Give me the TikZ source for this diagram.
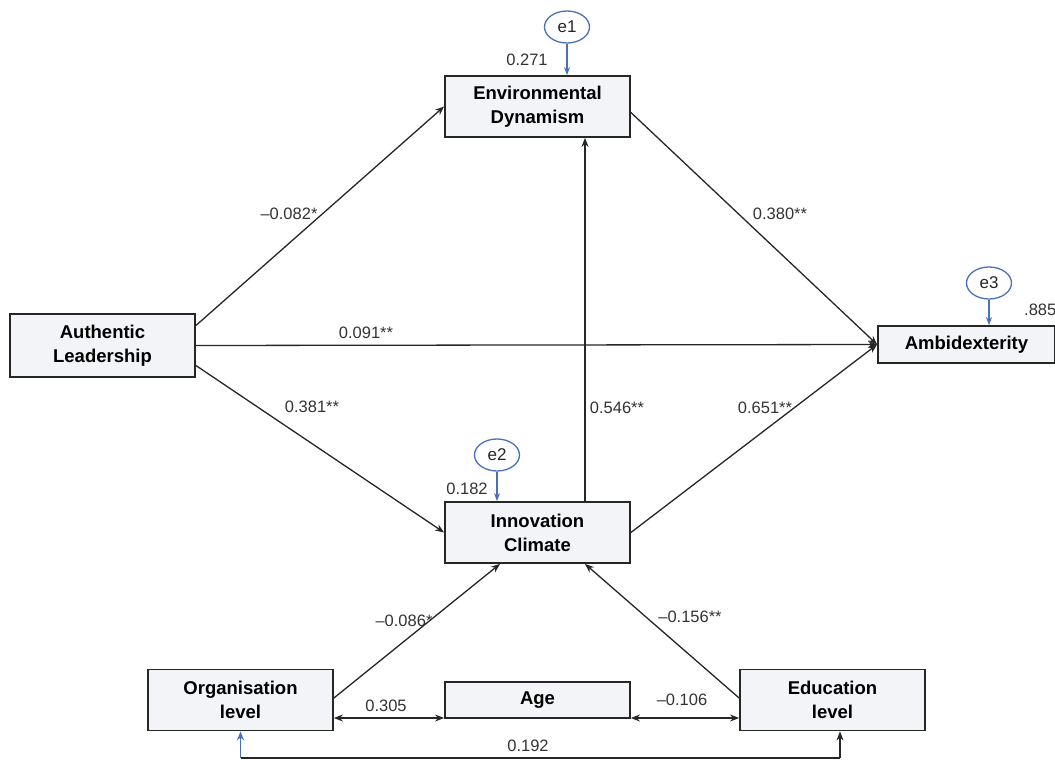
\documentclass[tikz,border=0pt]{standalone}
\usepackage{fontspec}
\setmainfont{Liberation Sans}
\usetikzlibrary{arrows.meta,shapes.geometric}
\definecolor{boxfill}{HTML}{F2F4F7}
\definecolor{eblue}{HTML}{4A70B8}
\definecolor{lbl}{HTML}{333333}
\tikzset{
  var/.style={draw=black!85,line width=1.8pt,fill=boxfill,minimum width=185pt,minimum height=61pt,
    align=center,font=\fontsize{18.5}{24}\selectfont\bfseries,inner sep=0pt},
  err/.style={ellipse,draw=eblue,line width=1.3pt,minimum width=45pt,minimum height=32pt,inner sep=0pt,
    font=\fontsize{17}{19}\selectfont,text=black!85},
  path/.style={line width=1.3pt,black!85,-{Stealth[length=9pt,width=7pt]}},
  cov/.style={line width=1.3pt,black!85,{Stealth[length=9pt,width=7pt]}-{Stealth[length=9pt,width=7pt]}},
  earr/.style={line width=1.3pt,eblue,-{Stealth[length=8pt,width=6pt]}},
  lab/.style={font=\fontsize{16.5}{18}\selectfont,text=lbl,inner sep=0pt}
}
\begin{document}
\begin{tikzpicture}[x=1pt,y=-1pt]
\useasboundingbox (0,0) rectangle (1055,760);
% variables
\node[var] (ED) at (537.5,106.5) {Environmental\\Dynamism};
\node[var,minimum height=63pt] (AL) at (102.5,345.5) {Authentic\\Leadership};
\node[var,minimum width=177pt,minimum height=37pt] (AM) at (966.5,344.5) {Ambidexterity};
\node[var] (IC) at (537.5,532.5) {Innovation\\Climate};
\node[var] (OL) at (240.5,700) {Organisation\\level};
\node[var,minimum height=36pt] (AG) at (537.5,700) {Age};
\node[var] (EL) at (832.5,700) {Education\\level};
% errors
\node[err] (e1) at (567,27) {e1};
\node[err] (e2) at (497,455) {e2};
\node[err] (e3) at (989,283) {e3};
\draw[earr] (e1.south) -- ([xshift=29.5pt]ED.north);
\draw[earr] (e2.south) -- ([xshift=-40.5pt]IC.north);
\draw[earr] (e3.south) -- ([xshift=22.5pt]AM.north);
\node[lab] at (527,60) {0.271};
\node[lab] at (467,489) {0.182};
\node[lab,anchor=west] at (1024,310) {.885};
% paths
\draw[path] ([yshift=20pt]AL.east) -- (ED.west);
\draw[path] (AL.east) -- (AM.west);
\draw[path] ([yshift=-20pt]AL.east) -- (IC.west);
\draw[path] ([yshift=-6pt]ED.east) -- (AM.west);
\draw[path] (IC.east) -- (AM.west);
\draw[path] ([xshift=47.5pt]IC.north) -- ([xshift=47.5pt]ED.south);
\draw[path] ([yshift=2pt]OL.east) -- ([xshift=-37.5pt]IC.south);
\draw[path] ([yshift=2pt]EL.west) -- ([xshift=47.5pt]IC.south);
\draw[cov] ([yshift=-18pt]OL.east) -- ([yshift=-18pt]AG.west);
\draw[cov] ([yshift=-18pt]AG.east) -- ([yshift=-18pt]EL.west);
\coordinate (b1) at (240.5,758);
\coordinate (b2) at (840,758);
\draw[line width=1.3pt,eblue,-{Stealth[length=9pt,width=7pt]}] (b1) -- (OL.south);
\draw[line width=1.3pt,black!85] (b1) -- (b2);
\draw[line width=1.3pt,black!85,-{Stealth[length=9pt,width=7pt]}] (b2) -- ([xshift=7.5pt]EL.south);
% labels
\node[lab] at (289,214) {--0.082*};
\node[lab] at (366,333) {0.091**};
\node[lab] at (312,407) {0.381**};
\node[lab] at (780,214) {0.380**};
\node[lab] at (617,408) {0.546**};
\node[lab] at (765,408) {0.651**};
\node[lab] at (404,621) {--0.086*};
\node[lab] at (690,617) {--0.156**};
\node[lab] at (386,706) {0.305};
\node[lab] at (682,700) {--0.106};
\node[lab] at (528,746) {0.192};
\end{tikzpicture}
\end{document}
